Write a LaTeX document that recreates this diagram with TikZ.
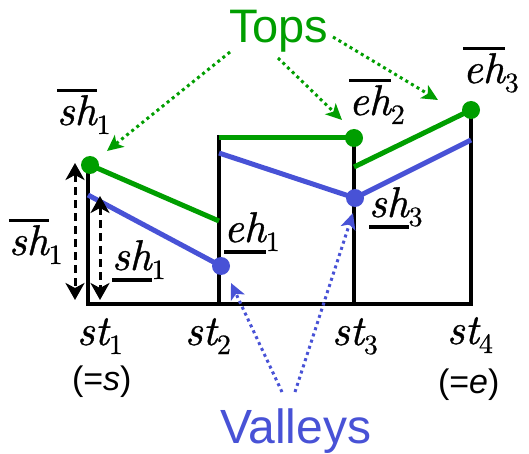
\documentclass[tikz,border=0pt]{standalone}
\usepackage{fontspec}
\setsansfont{Liberation Sans}
\newfontfamily\lmit{lmroman10-italic.otf}[FakeBold=0.8]
\newfontfamily\lmup{lmroman10-regular.otf}[FakeBold=0.5]
\usetikzlibrary{arrows.meta}
\definecolor{tgreen}{RGB}{0,158,0}
\definecolor{vblue}{RGB}{72,82,214}
\newcommand{\mysub}[1]{\raisebox{-9pt}{\fontsize{28}{28}\selectfont\lmup #1}}
\newcommand{\ovl}[1]{\vbox{\hrule height 3.5pt\kern 3pt\hbox{\fontsize{43}{43}\selectfont\lmit #1}}}
\newcommand{\unl}[1]{\vtop{\hbox{\fontsize{43}{43}\selectfont\lmit #1}\kern 8pt\hrule height 3.5pt}}
\newcommand{\stl}[1]{{\fontsize{43}{43}\selectfont\lmit st}\mysub{#1}}
\tikzset{
  lab/.style={anchor=base west, inner sep=0pt, outer sep=0pt},
  axis/.style={line width=3.5pt, black, line cap=rect},
  topline/.style={line width=5pt, tgreen},
  valline/.style={line width=5pt, vblue},
  gdot/.style={circle, fill=tgreen, minimum size=18pt, inner sep=0pt},
  bdot/.style={circle, fill=vblue, minimum size=18pt, inner sep=0pt},
  harrow/.style={line width=3pt, dash pattern=on 8pt off 5pt, {Stealth[length=17pt,width=19pt,inset=5pt]}-{Stealth[length=17pt,width=19pt,inset=5pt]}},
  tarrow/.style={line width=3pt, tgreen, dash pattern=on 3pt off 3.5pt, -{Stealth[length=16pt,width=15pt,inset=4pt]}},
  varrow/.style={line width=3pt, vblue, dash pattern=on 3pt off 3.5pt, -{Stealth[length=16pt,width=15pt,inset=4pt]}},
}
\begin{document}
\begin{tikzpicture}[x=1pt,y=-1pt]
\useasboundingbox (0,0) rectangle (529,454);
% frame coordinates
\coordinate (b1) at (88,304);
\coordinate (b2) at (219,304);
\coordinate (b3) at (354,304);
\coordinate (b4) at (471,304);
\coordinate (t1) at (88,168);
\coordinate (t2) at (219,137);
\coordinate (t3) at (354,139);
\coordinate (t4) at (471,110);
\draw[axis] (t1) -- (b1) -- (b4) -- (t4);
\draw[axis] (t2) -- (b2);
\draw[axis] (t3) -- (b3);
% tops
\coordinate (g1e) at (219,221);
\coordinate (g2s) at (219,138);
\coordinate (g3s) at (354,167);
\draw[topline] (90,165) -- (g1e);
\draw[topline] (g2s) -- (354,138);
\draw[topline] (g3s) -- (471,110);
\node[gdot] (gd1) at (90,165) {};
\node[gdot] (gd2) at (354,138) {};
\node[gdot] (gd3) at (471,110) {};
% valleys
\coordinate (v1s) at (88,195);
\coordinate (v2s) at (219,153);
\coordinate (v3e) at (471,140);
\draw[valline] (v1s) -- (221,266);
\draw[valline] (v2s) -- (355,198) -- (v3e);
\node[bdot] (bd1) at (221,266) {};
\node[bdot] (bd2) at (355,198) {};
% height arrows
\coordinate (ha1) at (75,163);
\coordinate (ha2) at (75,300);
\coordinate (hb1) at (100,196);
\coordinate (hb2) at (100,300);
\draw[harrow] (ha1) -- (ha2);
\draw[harrow] (hb1) -- (hb2);
% labels
\node[lab] (lsh1top) at (57,125) {\ovl{sh}\mysub{1}};
\node[lab] (lsh1left) at (9,255) {\ovl{sh}\mysub{1}};
\node[lab] (lush1) at (112,270) {\unl{sh}\mysub{1}};
\node[lab] (lueh1) at (224,242) {\unl{eh}\mysub{1}};
\node[lab] (loeh2) at (349,115) {\ovl{eh}\mysub{2}};
\node[lab] (lush3) at (369,217) {\unl{sh}\mysub{3}};
\node[lab] (loeh3) at (463,83) {\ovl{eh}\mysub{3}};
\node[lab] (st1) at (77,345) {\stl{1}};
\node[lab] (st2) at (185,345) {\stl{2}};
\node[lab] (st3) at (332,345) {\stl{3}};
\node[lab] (st4) at (447,344) {\stl{4}};
\node[lab] (eqs) at (72,390) {\sffamily\fontsize{34}{34}\selectfont(=\textit{s})};
\node[lab] (eqe) at (438,393) {\sffamily\fontsize{34}{34}\selectfont(=\textit{e})};
\node[lab, text=tgreen] (tops) at (229,43) {\sffamily\fontsize{47}{47}\selectfont Tops};
\node[lab, text=vblue] (valleys) at (220,443) {\sffamily\fontsize{48}{48}\selectfont Valleys};
% pointer arrows
\coordinate (tp1) at (230,52);
\coordinate (tp2) at (278,58);
\coordinate (tp3) at (333,37);
\coordinate (tq1) at (107,151);
\coordinate (tq2) at (342,120);
\coordinate (tq3) at (438,100);
\draw[tarrow] (tp1) -- (tq1);
\draw[tarrow] (tp2) -- (tq2);
\draw[tarrow] (tp3) -- (tq3);
\coordinate (vp1) at (282,392);
\coordinate (vp2) at (295,392);
\coordinate (vq1) at (231,283);
\coordinate (vq2) at (353,213);
\draw[varrow] (vp1) -- (vq1);
\draw[varrow] (vp2) -- (vq2);
\end{tikzpicture}
\end{document}
